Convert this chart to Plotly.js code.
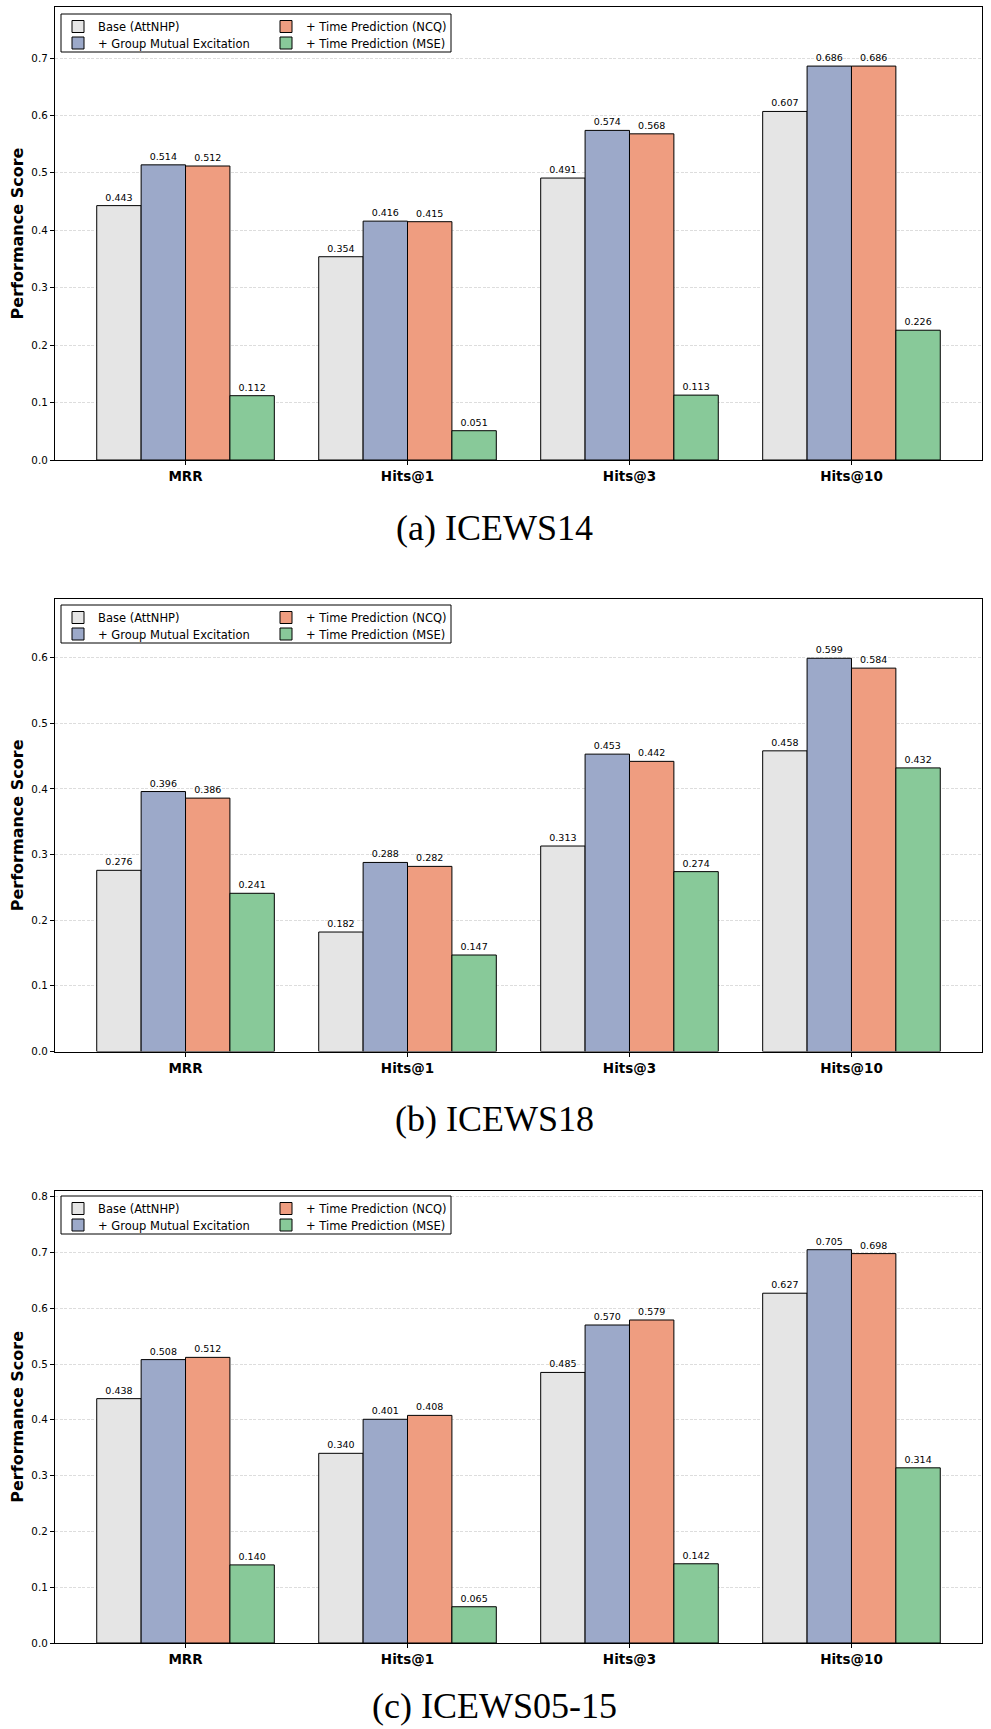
<!DOCTYPE html>
<html>
<head>
<meta charset="utf-8">
<script src="https://cdn.plot.ly/plotly-3.0.1.min.js"></script>
<style>html,body{margin:0;padding:0;background:#fff;}#chart{width:991px;height:1729px;}</style>
</head>
<body>
<div id="chart"></div>
<script>
// ---- data ----
const categories = ['MRR', 'Hits@1', 'Hits@3', 'Hits@10'];
const seriesNames = ['Base (AttNHP)', '+ Group Mutual Excitation', '+ Time Prediction (NCQ)', '+ Time Prediction (MSE)'];
const captions = ['(a) ICEWS14', '(b) ICEWS18', '(c) ICEWS05-15'];

const icews14_base = [0.443, 0.354, 0.491, 0.607];
const icews14_gme  = [0.514, 0.416, 0.574, 0.686];
const icews14_ncq  = [0.512, 0.415, 0.568, 0.686];
const icews14_mse  = [0.112, 0.051, 0.113, 0.226];

const icews18_base = [0.276, 0.182, 0.313, 0.458];
const icews18_gme  = [0.396, 0.288, 0.453, 0.599];
const icews18_ncq  = [0.386, 0.282, 0.442, 0.584];
const icews18_mse  = [0.241, 0.147, 0.274, 0.432];

const icews0515_base = [0.438, 0.340, 0.485, 0.627];
const icews0515_gme  = [0.508, 0.401, 0.570, 0.705];
const icews0515_ncq  = [0.512, 0.408, 0.579, 0.698];
const icews0515_mse  = [0.140, 0.065, 0.142, 0.314];

// ---- styling ----
const colors = ['#e5e5e5', '#9ca9c9', '#ef9d80', '#88c999'];
// legend slot of each series: [column, row] (matplotlib ncol=2, column-major)
const legendSlot = [[0, 0], [0, 1], [1, 0], [1, 1]];
const panels = [
  [icews14_base, icews14_gme, icews14_ncq, icews14_mse],
  [icews18_base, icews18_gme, icews18_ncq, icews18_mse],
  [icews0515_base, icews0515_gme, icews0515_ncq, icews0515_mse]
];

const H = 1729, W = 991;
const plotTops = [7, 599.3, 1190.7];
const plotBottoms = [460, 1051.5, 1643];
const legendTops = [14, 605, 1196];
const legendColX = [58, 266];
const legendRowCenter = [8, 24.5];
const legendBox = [61, 451];
const legendBoxH = 38;
const captionCenters = [527.5, 1118.5, 1705.5];
const xDomain = [55 / W, 982 / W];
const FONT = 'DejaVu Sans, sans-serif';

const traces = [];
const layout = {
  width: W, height: H,
  margin: {l: 0, r: 0, t: 0, b: 0},
  paper_bgcolor: '#ffffff',
  plot_bgcolor: '#ffffff',
  barmode: 'group',
  bargap: 0.2,
  bargroupgap: 0,
  showlegend: true,
  font: {family: FONT, color: '#000000', size: 10},
  annotations: [],
  shapes: []
};

function legendName(n) { return n === 1 ? 'legend' : 'legend' + n; }

panels.forEach((series, p) => {
  const sfx = p === 0 ? '' : String(p + 1);
  series.forEach((vals, s) => {
    const lname = legendName(p * 4 + s + 1);
    traces.push({
      type: 'bar',
      x: categories,
      y: vals,
      name: seriesNames[s],
      xaxis: 'x' + sfx,
      yaxis: 'y' + sfx,
      legend: lname,
      marker: {color: colors[s], line: {color: '#000000', width: 1}},
      texttemplate: '%{y:.3f}',
      textposition: 'outside',
      cliponaxis: false,
      constraintext: 'none',
      textfont: {family: FONT, size: 9.5, color: '#000000'},
      hoverinfo: 'x+y+name'
    });
    const [col, row] = legendSlot[s];
    layout[lname] = {
      orientation: 'v',
      x: legendColX[col] / W, xanchor: 'left',
      y: (H - (legendTops[p] + legendRowCenter[row] - 10)) / H, yanchor: 'top',
      bgcolor: 'rgba(0,0,0,0)', borderwidth: 0,
      font: {family: FONT, size: 11.5, color: '#000000'},
      tracegroupgap: 0
    };
  });
  const ymax = Math.max(...series.flat()) * 1.15;
  const nTicks = Math.floor(ymax * 10 + 1e-9);
  const tickvals = [];
  for (let i = 0; i <= nTicks; i++) tickvals.push(i / 10);

  layout['xaxis' + sfx] = {
    domain: xDomain,
    anchor: 'y' + sfx,
    type: 'category',
    range: [-0.588, 3.588],
    showline: true, linecolor: '#000000', linewidth: 1.2, mirror: true,
    ticks: 'outside', ticklen: 4, tickcolor: '#000000', tickwidth: 1,
    showgrid: false, zeroline: false,
    tickfont: {family: FONT, size: 13.5, color: '#000000', weight: 'bold'},
    automargin: false,
    fixedrange: true
  };
  layout['yaxis' + sfx] = {
    domain: [(H - plotBottoms[p]) / H, (H - plotTops[p]) / H],
    anchor: 'x' + sfx,
    range: [0, ymax],
    tickvals: tickvals,
    tickformat: '.1f',
    showline: true, linecolor: '#000000', linewidth: 1.2, mirror: true,
    ticks: 'outside', ticklen: 4, tickcolor: '#000000', tickwidth: 1,
    showgrid: true, gridcolor: '#d4d4d4', gridwidth: 0.8, griddash: '3px,1.5px',
    zeroline: false,
    tickfont: {family: FONT, size: 10.3, color: '#000000'},
    title: {text: 'Performance Score', font: {family: FONT, size: 16, color: '#000000', weight: 'bold'}, standoff: 3},
    automargin: false,
    fixedrange: true
  };
  // legend frame
  layout.shapes.push({
    type: 'rect', xref: 'paper', yref: 'paper', layer: 'above',
    x0: legendBox[0] / W, x1: legendBox[1] / W,
    y0: (H - legendTops[p] - legendBoxH) / H, y1: (H - legendTops[p]) / H,
    line: {color: '#000000', width: 1}, fillcolor: '#ffffff'
  });
  layout.annotations.push({
    xref: 'paper', yref: 'paper',
    x: 494 / W, y: (H - captionCenters[p]) / H,
    xanchor: 'center', yanchor: 'middle',
    text: captions[p], showarrow: false,
    font: {family: 'Liberation Serif, Times New Roman, serif', size: 36, color: '#000000'}
  });
});

Plotly.newPlot('chart', traces, layout, {displayModeBar: false, staticPlot: true});
</script>
</body>
</html>
